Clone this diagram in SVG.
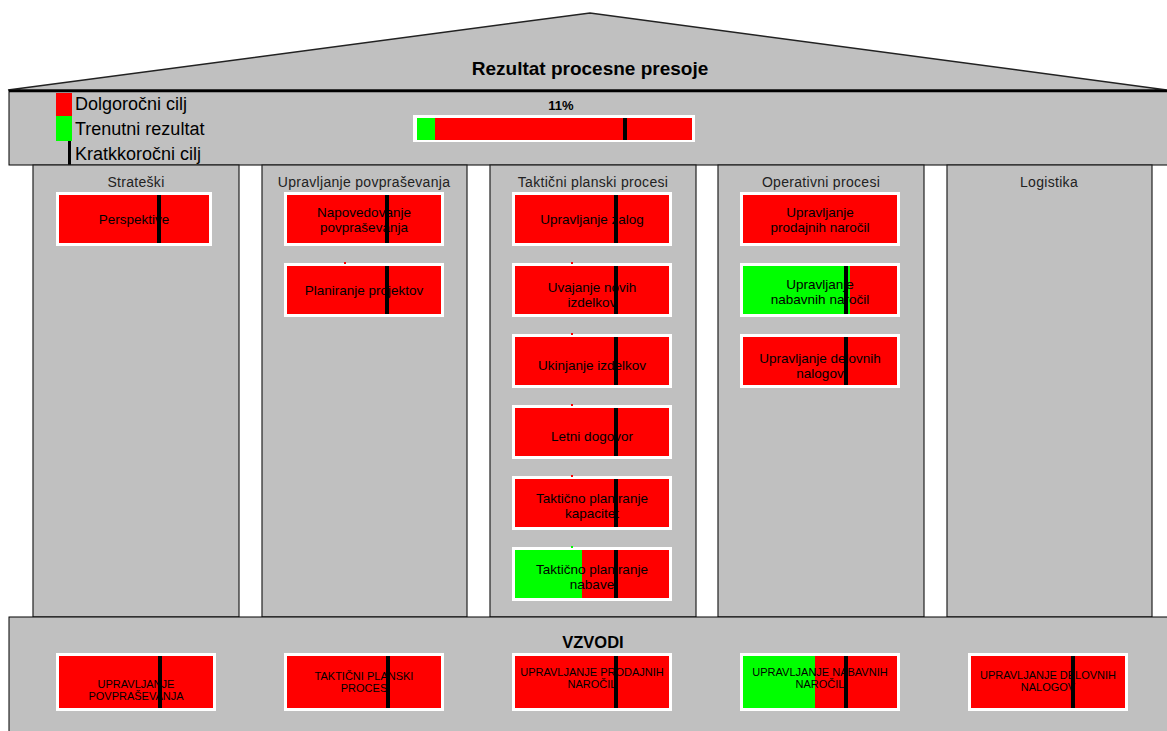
<svg xmlns="http://www.w3.org/2000/svg" width="1167" height="731" viewBox="0 0 1167 731">
  <style>
    .band { fill: #c0c0c0; stroke: #000; stroke-width: 1; }
    .pillar { fill: #c0c0c0; stroke: #222; stroke-width: 1.2; }
    .frame { fill: #fff; }
    .red { fill: #ff0000; }
    .green { fill: #00ff00; }
    .mark { fill: #000; }
    .t { font-family: "Liberation Sans", Arial, sans-serif; fill: #000; text-anchor: middle; }
    .title { font-size: 19px; font-weight: bold; }
    .col { font-size: 14px; fill: #222; letter-spacing: 0.3px; }
    .node { font-size: 13.5px; }
    .lever { font-size: 11px; }
    .legend { font-family: "Liberation Sans", Arial, sans-serif; font-size: 18px; fill: #000; }
  </style>
  <rect width="1167" height="731" fill="#fff"/>

  <!-- roof -->
  <g id="roof">
    <polygon points="8,90 590,13 1167,90" fill="#c0c0c0" stroke="#222" stroke-width="1.5"/>
    <text class="t title" x="590" y="75">Rezultat procesne presoje</text>
  </g>

  <!-- header band with legend and overall result -->
  <g id="header">
    <rect class="band" x="9" y="91" width="1160" height="74"/>
    <line x1="9" y1="91" x2="1167" y2="91" stroke="#000" stroke-width="2.5"/>
    <rect class="red" x="56" y="93" width="16" height="23"/>
    <rect class="green" x="56" y="116" width="16" height="25"/>
    <rect class="mark" x="68" y="141" width="3" height="24"/>
    <text class="legend" x="75" y="110">Dolgoročni cilj</text>
    <text class="legend" x="75" y="135">Trenutni rezultat</text>
    <text class="legend" x="75" y="160">Kratkkoročni cilj</text>
    <text class="t" x="561" y="110" font-size="13" font-weight="bold">11%</text>
    <rect class="frame" x="413" y="115" width="282" height="27"/>
    <rect class="green" x="417" y="118" width="18" height="22"/>
    <rect class="red" x="435" y="118" width="257" height="22"/>
    <rect class="mark" x="623" y="118" width="4" height="22"/>
  </g>

  <!-- pillars -->
  <g id="pillar-strateski">
    <rect class="pillar" x="33" y="165" width="206" height="452"/>
    <text class="t col" x="136" y="187">Strateški</text>
  </g>
  <g id="pillar-povprasevanje">
    <rect class="pillar" x="262" y="165" width="205" height="452"/>
    <text class="t col" x="364" y="187">Upravljanje povpraševanja</text>
  </g>
  <g id="pillar-takticni">
    <rect class="pillar" x="490" y="165" width="206" height="452"/>
    <text class="t col" x="593" y="187">Taktični planski procesi</text>
  </g>
  <g id="pillar-operativni">
    <rect class="pillar" x="718" y="165" width="206" height="452"/>
    <text class="t col" x="821" y="187">Operativni procesi</text>
  </g>
  <g id="pillar-logistika">
    <rect class="pillar" x="947" y="165" width="205" height="452"/>
    <text class="t col" x="1049" y="187">Logistika</text>
  </g>

  <!-- process nodes -->
  <g id="n-perspektive">
    <rect class="frame" x="56" y="192" width="156" height="54"/>
    <rect class="red" x="59" y="195" width="150" height="48"/>
    <rect class="mark" x="157" y="195" width="4" height="48"/>
    <text class="t node" x="134" y="224">Perspektive</text>
  </g>
  <g id="n-napovedovanje">
    <rect class="frame" x="284" y="192" width="160" height="54"/>
    <rect class="red" x="287" y="195" width="154" height="48"/>
    <rect class="mark" x="385" y="195" width="4" height="48"/>
    <text class="t node" x="364" y="217">Napovedovanje</text>
    <text class="t node" x="364" y="232">povpraševanja</text>
  </g>
  <g id="n-projekti">
    <rect class="frame" x="284" y="263" width="160" height="54"/>
    <rect class="red" x="287" y="266" width="154" height="48"/>
    <rect class="red" x="344" y="262" width="2" height="2"/>
    <rect class="mark" x="385" y="266" width="4" height="48"/>
    <text class="t node" x="364" y="295">Planiranje projektov</text>
  </g>

  <g id="n-zaloge">
    <rect class="frame" x="512" y="192" width="160" height="54"/>
    <rect class="red" x="515" y="195" width="154" height="48"/>
    <rect class="mark" x="614" y="195" width="4" height="48"/>
    <text class="t node" x="592" y="224">Upravljanje zalog</text>
  </g>
  <g id="n-novi-izdelki">
    <rect class="frame" x="512" y="263" width="160" height="54"/>
    <rect class="red" x="515" y="266" width="154" height="48"/>
    <rect class="red" x="571" y="262" width="2" height="2"/>
    <rect class="mark" x="614" y="266" width="4" height="48"/>
    <text class="t node" x="592" y="292">Uvajanje novih</text>
    <text class="t node" x="592" y="307">izdelkov</text>
  </g>
  <g id="n-ukinjanje">
    <rect class="frame" x="512" y="334" width="160" height="54"/>
    <rect class="red" x="515" y="337" width="154" height="48"/>
    <rect class="red" x="571" y="333" width="2" height="2"/>
    <rect class="mark" x="614" y="337" width="4" height="48"/>
    <text class="t node" x="592" y="370">Ukinjanje izdelkov</text>
  </g>
  <g id="n-letni-dogovor">
    <rect class="frame" x="512" y="405" width="160" height="54"/>
    <rect class="red" x="515" y="408" width="154" height="48"/>
    <rect class="red" x="571" y="404" width="2" height="2"/>
    <rect class="mark" x="614" y="408" width="4" height="48"/>
    <text class="t node" x="592" y="441">Letni dogovor</text>
  </g>
  <g id="n-kapacitete">
    <rect class="frame" x="512" y="476" width="160" height="54"/>
    <rect class="red" x="515" y="479" width="154" height="48"/>
    <rect class="red" x="571" y="475" width="2" height="2"/>
    <rect class="mark" x="614" y="479" width="4" height="48"/>
    <text class="t node" x="592" y="503">Taktično planiranje</text>
    <text class="t node" x="592" y="518">kapacitet</text>
  </g>
  <g id="n-nabava">
    <rect class="frame" x="512" y="547" width="160" height="54"/>
    <rect class="green" x="515" y="550" width="67" height="48"/>
    <rect class="red" x="582" y="550" width="87" height="48"/>
    <rect class="green" x="571" y="546" width="2" height="2"/>
    <rect class="mark" x="614" y="550" width="4" height="48"/>
    <text class="t node" x="592" y="574">Taktično planiranje</text>
    <text class="t node" x="592" y="589">nabave</text>
  </g>

  <g id="n-prodajna-narocila">
    <rect class="frame" x="740" y="192" width="160" height="54"/>
    <rect class="red" x="743" y="195" width="154" height="48"/>
    <text class="t node" x="820" y="217">Upravljanje</text>
    <text class="t node" x="820" y="232">prodajnih naročil</text>
  </g>
  <g id="n-nabavna-narocila">
    <rect class="frame" x="740" y="263" width="160" height="54"/>
    <rect class="green" x="743" y="266" width="107" height="48"/>
    <rect class="red" x="850" y="266" width="47" height="48"/>
    <rect class="mark" x="844" y="266" width="4" height="48"/>
    <text class="t node" x="820" y="289">Upravljanje</text>
    <text class="t node" x="820" y="304">nabavnih naročil</text>
  </g>
  <g id="n-delovni-nalogi">
    <rect class="frame" x="740" y="334" width="160" height="54"/>
    <rect class="red" x="743" y="337" width="154" height="48"/>
    <rect class="mark" x="844" y="337" width="4" height="48"/>
    <text class="t node" x="820" y="363">Upravljanje delovnih</text>
    <text class="t node" x="820" y="378">nalogov</text>
  </g>

  <!-- levers band -->
  <g id="levers">
    <rect class="band" x="9" y="617" width="1160" height="116"/>
    <text class="t" x="593" y="648" font-size="16.5" font-weight="bold">VZVODI</text>
  </g>
  <g id="v-povprasevanje">
    <rect class="frame" x="56" y="653" width="160" height="58"/>
    <rect class="red" x="59" y="656" width="154" height="52"/>
    <rect class="mark" x="158" y="656" width="4" height="52"/>
    <text class="t lever" x="136" y="688">UPRAVLJANJE</text>
    <text class="t lever" x="136" y="700">POVPRAŠEVANJA</text>
  </g>
  <g id="v-takticni">
    <rect class="frame" x="284" y="653" width="160" height="58"/>
    <rect class="red" x="287" y="656" width="154" height="52"/>
    <rect class="mark" x="386" y="656" width="4" height="52"/>
    <text class="t lever" x="364" y="680">TAKTIČNI PLANSKI</text>
    <text class="t lever" x="364" y="692">PROCES</text>
  </g>
  <g id="v-prodajna">
    <rect class="frame" x="512" y="653" width="160" height="58"/>
    <rect class="red" x="515" y="656" width="154" height="52"/>
    <rect class="mark" x="614" y="656" width="4" height="52"/>
    <text class="t lever" x="592" y="676">UPRAVLJANJE  PRODAJNIH</text>
    <text class="t lever" x="592" y="688">NAROČIL</text>
  </g>
  <g id="v-nabavna">
    <rect class="frame" x="740" y="653" width="160" height="58"/>
    <rect class="green" x="743" y="656" width="72" height="52"/>
    <rect class="red" x="815" y="656" width="82" height="52"/>
    <rect class="mark" x="844" y="656" width="4" height="52"/>
    <text class="t lever" x="820" y="676">UPRAVLJANJE  NABAVNIH</text>
    <text class="t lever" x="820" y="688">NAROČIL</text>
  </g>
  <g id="v-delovni">
    <rect class="frame" x="968" y="653" width="160" height="58"/>
    <rect class="red" x="971" y="656" width="154" height="52"/>
    <rect class="mark" x="1071" y="656" width="4" height="52"/>
    <text class="t lever" x="1048" y="679">UPRAVLJANJE  DELOVNIH</text>
    <text class="t lever" x="1048" y="691">NALOGOV</text>
  </g>

  <!-- no connectors in this layout -->
  <g id="connectors"/>
</svg>
